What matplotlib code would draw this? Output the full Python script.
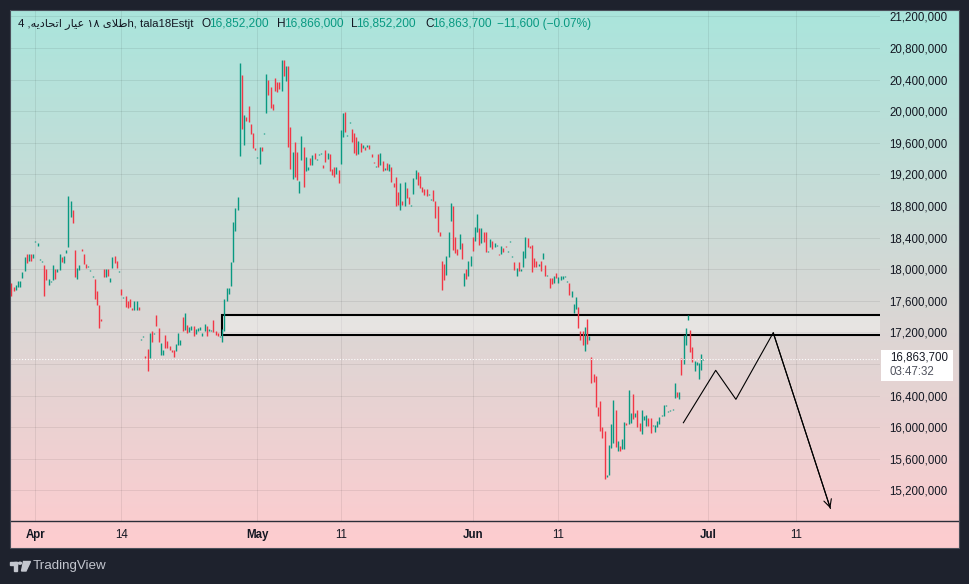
import matplotlib
matplotlib.use("Agg")
import matplotlib.pyplot as plt
import numpy as np
from matplotlib.patches import Rectangle, Polygon, Circle
from matplotlib.lines import Line2D

# ---------------- data (prices in thousands of rials) ----------------
opens = [
    17820, 17780, 17740, 17780, 17780, 17890, 17980, 18190, 18110, 18190,
    18140, 18340, 18295, 18113, 18088, 18050, 18007, 17804, 17838, 17860,
    18007, 17965, 17986, 18151, 18079, 18206, 18283, 18664, 18749, 18240,
    17876, 17994, 18261, 18189, 18071, 18024, 17973, 17897, 17872, 17719,
    17541, 17376, 18007, 17901, 18007, 17838, 18020, 18164, 18100, 17965,
    17744, 17634, 17660, 17596, 17617, 17503, 17490, 17490, 17516, 17109,
    17139, 16906, 16995, 16872, 17223, 17185, 17423, 17262, 16910, 16910,
    17173, 17096, 17033, 16982, 16982, 16961, 17037, 17045, 17389, 17236,
    17300, 17206, 17236, 17287, 17185, 17223, 17236, 17156, 17215, 17278,
    17219, 17223, 17359, 17223, 17198, 17139, 17075, 17223, 17596, 17685,
    17783, 18092, 18486, 18749,
    19438, 20459, 19578, 19923, 20063, 19834, 19719, 19540, 19412, 19336,
    19553, 19706, 19974, 20395, 20306, 20089, 20421, 20370, 20370, 20255,
    20651, 20383, 20574, 19795, 19144, 19604, 19489, 18966, 19387, 19553,
    19246, 19259, 19412, 19323, 19476, 19387, 19451, 19463, 19323, 19515,
    19400, 19463, 19272, 19298, 19208, 19259,
    19336, 19679, 19996, 19686, 19850, 19780, 19729, 19679, 19463, 19603,
    19539, 19552, 19552, 19577, 19463, 19355, 19292, 19463, 19324, 19374,
    19260, 19349, 19247, 19298, 19095, 19171, 18981, 18753, 18867, 18803,
    19032, 18918, 18803, 18956, 19146, 19235, 19184, 19045, 19019, 19019,
    18943, 18880, 19006, 18867, 18803, 18474, 18106, 18068, 17928, 18157,
    18613, 18803, 18410, 18258, 18258, 18334, 17789, 18004, 17916, 18042,
    18410, 18360, 18474, 18524, 18334, 18474, 18474, 18220, 18284, 18360,
    18284, 18296, 18195, 18195, 18271, 18296, 18220, 18347, 18157, 18093,
    17916, 18093, 17979, 18030, 18144, 18398, 18296, 18309, 18144, 18106,
    18042, 18106, 18131, 18055, 17916, 17890, 17890, 17827, 17954, 17827,
    17865, 17878, 17903, 17840,
    17823, 17645, 17443, 17493, 17519, 17215, 17215, 16961, 17367, 17101,
    16885, 16670, 16644, 16251, 16328, 15998, 15947, 15364, 15390, 15732,
    15795, 16213, 15694, 15757, 15719, 15719, 16049, 16036, 16049, 16416,
    16125, 16213, 16049, 15909, 16087, 16011, 16112, 16112, 16011, 15935,
    15998, 16036, 16137, 16137, 16264, 16188, 16201, 16213, 16366, 16442,
    16353, 16872, 16796, 17037, 17354, 17227, 17012, 16708, 16784, 16606,
    16720, 16852.2,
]
closes = [
    17660, 17720, 17800, 17850, 17850, 17960, 18150, 18080, 18190, 18110,
    18190, 18355, 18335, 18126, 18100, 17660, 17860, 17872, 17850, 18050,
    17872, 18007, 18198, 18092, 18164, 18240, 18927, 18863, 18588, 17901,
    18020, 18050, 18228, 18071, 18020, 18037, 17986, 17910, 17617, 17541,
    17253, 17342, 17901, 18007, 17914, 17889, 18151, 18079, 18016, 17978,
    17668, 17647, 17528, 17512, 17528, 17490, 17592, 17592, 17478, 17122,
    17151, 16872, 16715, 17198, 17084, 17198, 17287, 17084, 17067, 16982,
    16999, 16999, 16982, 16948, 16893, 17058, 17198, 17109, 17223, 17440,
    17194, 17274, 17287, 17160, 17249, 17262, 17274, 17198, 17308, 17151,
    17249, 17236, 17211, 17168, 17156, 17160, 17249, 17617, 17757, 17757,
    18088, 18596, 18770, 18910,
    20612, 19770, 19949, 19872, 19859, 19706, 19540, 19515, 19425, 19553,
    19502, 19719, 20472, 20204, 20038, 20012, 20255, 20242, 20280, 20651,
    20446, 20574, 19553, 19272, 19489, 19170, 19132, 19119, 19680, 19042,
    19425, 19298, 19323, 19451, 19400, 19400, 19463, 19476, 19285, 19361,
    19476, 19246, 19195, 19170, 19298, 19093,
    19767, 19983, 19742, 19698, 19862, 19615, 19476, 19450, 19628, 19488,
    19577, 19514, 19577, 19527, 19425, 19343, 19304, 19298, 19476, 19247,
    19286, 19260, 19336, 19108, 19045, 18803, 18816, 19095, 18816, 19108,
    18905, 18829, 18816, 19159, 19260, 19070, 19032, 18981, 18943, 18930,
    18956, 18892, 18867, 18651, 18474, 18423, 17738, 17865, 18169, 18474,
    18842, 18245, 18207, 18182, 18448, 18131, 17954, 17878, 18106, 18169,
    18233, 18537, 18702, 18309, 18524, 18347, 18220, 18233, 18385, 18258,
    18334, 18309, 18182, 18296, 18220, 18284, 18233, 18360, 18169, 17992,
    18017, 17979, 18004, 18233, 18410, 18284, 18271, 17966, 18030, 18030,
    18068, 17979, 18207, 17916, 17928, 17763, 17814, 17916, 17890, 17903,
    17916, 17916, 17916, 17852,
    17671, 17721, 17557, 17645, 17253, 17101, 17037, 17265, 17050, 17151,
    16556, 16568, 16251, 16137, 15947, 15859, 15339, 15390, 15770, 16036,
    16340, 15745, 15821, 15694, 15846, 16061, 16023, 16467, 16176, 16099,
    16176, 15998, 15947, 16213, 16137, 16150, 16011, 15922, 16023, 16023,
    16074, 16125, 16150, 16277, 16277, 16201, 16213, 16226, 16556, 16378,
    16442, 16657, 17164, 17253, 17417, 16948, 16822, 16834, 16822, 16809,
    16923, 16863.7,
]

price_levels = [15200, 15600, 16000, 16400, 16800, 17200, 17600, 18000,
                18400, 18800, 19200, 19600, 20000, 20400, 20800, 21200]
tick_bars = [11, 50, 112, 150, 210, 249, 317, 357]
tick_labels = ["Apr", "14", "May", "11", "Jun", "11", "Jul", "11"]
bold_ticks = {"Apr", "May", "Jun", "Jul"}

zone_start_bar = 96
zone_low, zone_high = 17170, 17420
last_price = 16863.7
countdown = "03:47:32"

proj_bars = [305.9, 320.6, 329.8, 346.8, 372.8]
proj_prices = [16057, 16720, 16353, 17196, 14973]

header_title = ("4 ," + "\uFEEA\uFEF3\uFEA9\uFE8E\uFEA4\uFE97\uFE8D" + " "
                + "\uFEAD\uFE8E\uFEF4\uFECB" + " " + "\u06F1\u06F8" + " "
                + "\uFEEF\uFEFC\uFEC3" + "h, tala18Estjt")
header_ohlc = [("O", "16,852,200"), ("H", "16,866,000"),
               ("L", "16,852,200"), ("C", "16,863,700")]
header_change = "\u221211,600 (\u22120.07%)"

# ---------------- styling ----------------
W, H = 969, 584
DARK = "#1e222d"
GREEN = "#089981"
RED = "#f23645"
TXT = "#131722"
FONT = ["Liberation Sans", "DejaVu Sans"]

def fx(x):
    return x / W

def fy(y):
    return 1 - y / H

fig = plt.figure(figsize=(W / 100, H / 100), dpi=100, facecolor=DARK)

# gradient background of chart block
bg = fig.add_axes([fx(10), fy(548), (959 - 10) / W, (548 - 10) / H], zorder=-2)
top = np.array([170, 229, 220]) / 255
bot = np.array([254, 204, 207]) / 255
t = np.linspace(0, 1, 256)[:, None]
grad = (top[None, :] * (1 - t) + bot[None, :] * t)[:, None, :]
bg.imshow(grad, aspect="auto", extent=[0, 1, 0, 1], origin="upper")
bg.set_axis_off()

# main plot axes
ax = fig.add_axes([fx(10), fy(521), 870 / W, 511 / H], zorder=0)
ax.patch.set_alpha(0)
ax.set_xlim(-0.605, 395.39)
ax.set_ylim(14813, 21281)
for s in ax.spines.values():
    s.set_visible(False)

for lv in price_levels:
    ax.axhline(lv, color=(0, 0, 0, 0.07), lw=0.75, zorder=0)
for b in tick_bars:
    ax.axvline(b, color=(0, 0, 0, 0.07), lw=0.75, zorder=0)

o = np.array(opens, dtype=float)
c = np.array(closes, dtype=float)
xs = np.arange(len(o))
lo = np.minimum(o, c)
hi = np.maximum(o, c)
cols = [GREEN if cc >= oo else RED for oo, cc in zip(o, c)]
ax.vlines(xs, lo, hi, colors=cols, lw=1.0, zorder=3)

# zone
ax.add_patch(Rectangle((zone_start_bar, zone_low), 400, zone_high - zone_low,
                       facecolor=(1, 1, 1, 0.35), edgecolor="black", lw=1.5,
                       zorder=2))

# last price dotted line
ax.axhline(last_price, color="white", lw=0.8, ls=(0, (1, 1.6)), zorder=4)

# projection
ax.plot(proj_bars, proj_prices, color="black", lw=0.8, zorder=5)
ax.annotate("", xy=(proj_bars[-1], proj_prices[-1]),
            xytext=(proj_bars[-2], proj_prices[-2]),
            arrowprops=dict(arrowstyle="->,head_length=0.55,head_width=0.28",
                            color="black", lw=0.8, shrinkA=0, shrinkB=0),
            zorder=5)

# axes ticks
ax.yaxis.tick_right()
ax.set_yticks(price_levels)
ax.set_yticklabels([f"{v * 1000:,.0f}" for v in price_levels])
ax.tick_params(axis="y", length=0, pad=6.5, labelsize=8.3, labelcolor=TXT)
ax.set_xticks(tick_bars)
ax.set_xticklabels(tick_labels)
ax.tick_params(axis="x", length=0, pad=6.0, labelsize=8.3, labelcolor=TXT)
for lab in ax.get_xticklabels() + ax.get_yticklabels():
    lab.set_fontfamily(FONT)
for lab in ax.get_xticklabels():
    if lab.get_text() in bold_ticks:
        lab.set_fontweight("bold")
# the axis label under the last-price badge is hidden, as on the chart
for lab, lv in zip(ax.get_yticklabels(), price_levels):
    if abs(lv - last_price) < 250:
        lab.set_visible(False)

# time-axis separator and chart border
fig.add_artist(Line2D([fx(10), fx(959)], [fy(521), fy(521)], color="#2a2e39",
                      lw=1.0, zorder=6))
fig.add_artist(Rectangle((fx(10), fy(548)), (959 - 10) / W, (548 - 10) / H,
                         fill=False, edgecolor="#4b4f5b", lw=0.8, zorder=6))

# price box
fig.add_artist(Rectangle((fx(881), fy(381)), (953 - 881) / W, (381 - 350) / H,
                         facecolor="white", edgecolor="none", zorder=7))
fig.text(fx(890), fy(358), f"{last_price * 1000:,.0f}", color=TXT, fontsize=8.3,
         family=FONT, va="center", ha="left", zorder=8)
fig.text(fx(890), fy(372), countdown, color="#50535e", fontsize=8.3,
         family=FONT, va="center", ha="left", zorder=8)

# header
renderer = fig.canvas.get_renderer()

def seq(x, y, parts, size=8.6, tighten=1.5):
    for s, col in parts:
        tt = fig.text(fx(x), fy(y), s, color=col, fontsize=size, family=FONT,
                      va="center", ha="left", zorder=8)
        x = tt.get_window_extent(renderer).x1 - tighten
    return x

seq(18, 24, [(header_title, TXT)], size=8.2)
for xstart, (lab, val) in zip([201, 277, 351, 425], header_ohlc):
    seq(xstart, 24, [(lab, TXT), (val, GREEN)])
seq(497, 24, [(header_change, GREEN)])

# TradingView logo
LOGO = "#c3c6ce"
fig.add_artist(Rectangle((fx(10), fy(564.5)), 7 / W, 3 / H, color=LOGO, zorder=8))
fig.add_artist(Rectangle((fx(13.5), fy(571)), 3.5 / W, 9.5 / H, color=LOGO, zorder=8))
fig.add_artist(Circle((fx(20), fy(563.2)), 1.6 / W, color=LOGO, zorder=8))
fig.add_artist(Polygon([(fx(23.5), fy(561.5)), (fx(30.5), fy(561.5)),
                        (fx(26), fy(571)), (fx(21.5), fy(571))],
                       closed=True, color=LOGO, zorder=8))
fig.text(fx(33), fy(566.5), "TradingView", color=LOGO, fontsize=9.6,
         family=FONT, va="center", ha="left")

fig.savefig("out.png", dpi=100, facecolor=DARK)
